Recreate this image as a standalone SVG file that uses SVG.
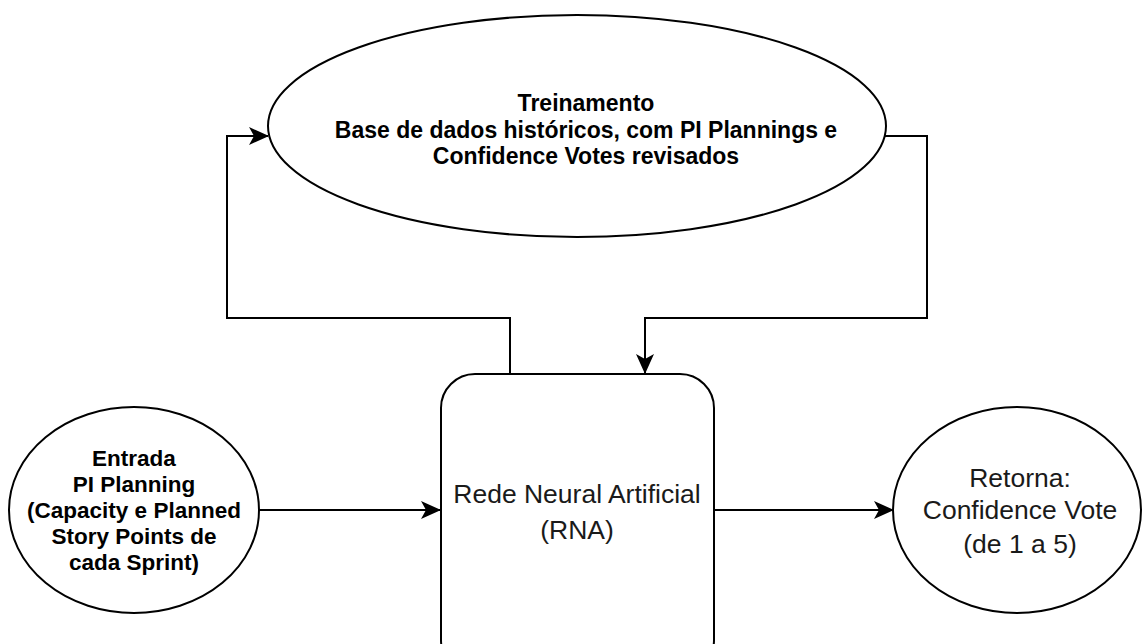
<svg xmlns="http://www.w3.org/2000/svg" width="1142" height="644" viewBox="0 0 1142 644">
<style>
.shape{fill:#fff;stroke:#000;stroke-width:2}
.conn{fill:none;stroke:#000;stroke-width:2}
.b{font-family:"Liberation Sans",Arial,sans-serif;font-weight:bold;fill:#000;text-anchor:middle}
.r{font-family:"Liberation Sans",Arial,sans-serif;fill:#1a1a1a;text-anchor:middle}
</style>
<defs>
<marker id="arr" viewBox="0 0 20 18" refX="19" refY="9" markerWidth="20" markerHeight="18" markerUnits="userSpaceOnUse" orient="auto">
<path d="M0,0 L20,9 L0,18 L5,9 Z" fill="#000"/>
</marker>
</defs>
<rect width="1142" height="644" fill="#fff"/>
<g id="connectors">
<path class="conn" d="M510,374 V318 H227 V136 H268" marker-end="url(#arr)"/>
<path class="conn" d="M884,136 H927 V318 H645 V373" marker-end="url(#arr)"/>
<path class="conn" d="M259,510 H440" marker-end="url(#arr)"/>
<path class="conn" d="M714,510 H893" marker-end="url(#arr)"/>
</g>
<g id="treinamento">
<ellipse class="shape" cx="577" cy="126" rx="309" ry="111"/>
<text class="b" font-size="23"><tspan x="586" y="111">Treinamento</tspan><tspan x="586" y="138">Base de dados históricos, com PI Plannings e</tspan><tspan x="586" y="164">Confidence Votes revisados</tspan></text>
</g>
<g id="rna">
<rect class="shape" x="441" y="374" width="273" height="300" rx="34" ry="34"/>
<text class="r" font-size="26.5"><tspan x="577" y="503">Rede Neural Artificial</tspan><tspan x="577" y="539">(RNA)</tspan></text>
</g>
<g id="entrada">
<ellipse class="shape" cx="134" cy="510" rx="125" ry="103"/>
<text class="b" font-size="22.5"><tspan x="134" y="466">Entrada</tspan><tspan x="134" y="492">PI Planning</tspan><tspan x="134" y="518">(Capacity e Planned</tspan><tspan x="134" y="544">Story Points de</tspan><tspan x="134" y="570">cada Sprint)</tspan></text>
</g>
<g id="retorna">
<ellipse class="shape" cx="1017" cy="510" rx="124" ry="103"/>
<text class="r" font-size="26.5"><tspan x="1020" y="487">Retorna:</tspan><tspan x="1020" y="519">Confidence Vote</tspan><tspan x="1020" y="553">(de 1 a 5)</tspan></text>
</g>
</svg>
